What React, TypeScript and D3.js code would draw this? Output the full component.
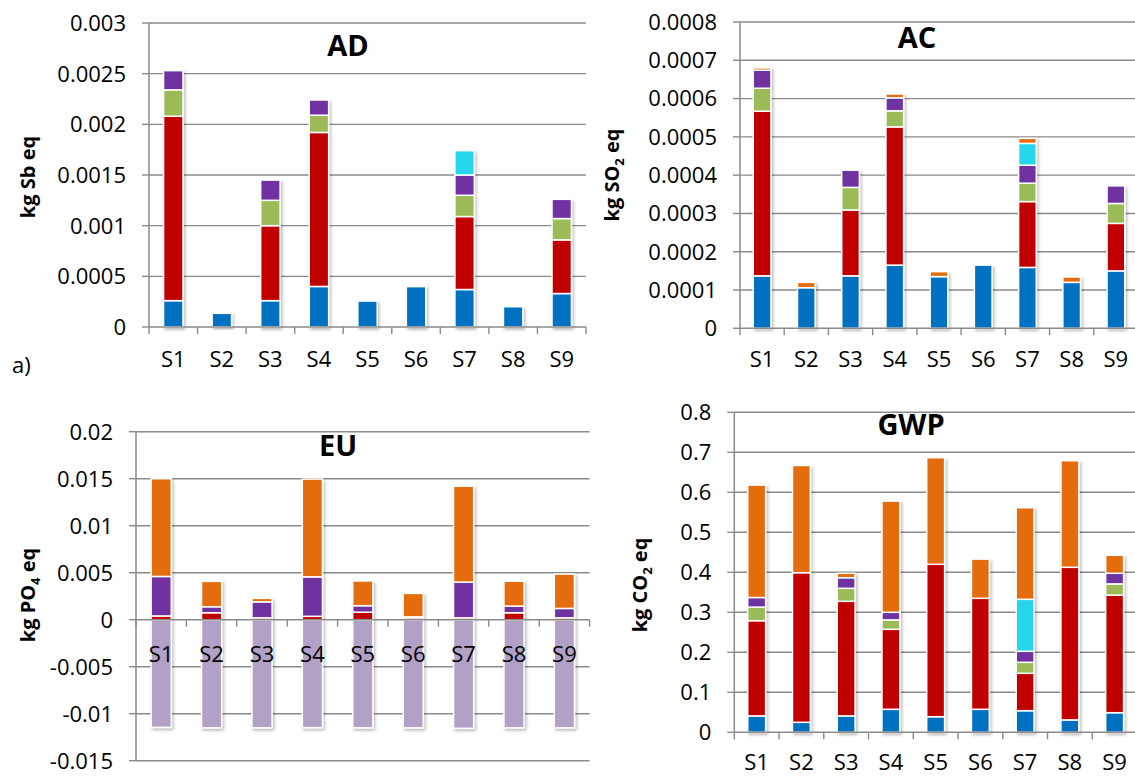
import React from 'react';
import * as d3 from 'd3';

const categories = ['S1', 'S2', 'S3', 'S4', 'S5', 'S6', 'S7', 'S8', 'S9'];

// AD (kg Sb eq)
const adBlue = [0.00026, 0.000135, 0.00026, 0.0004, 0.000256, 0.0004, 0.00037, 0.0002, 0.00033];
const adRed = [0.00182, 0, 0.00074, 0.00152, 0, 0.00001, 0.00072, 0, 0.00053];
const adGreen = [0.00026, 0, 0.00025, 0.00017, 0, 0, 0.00021, 0, 0.00021];
const adPurple = [0.00019, 0, 0.0002, 0.00015, 0, 0, 0.0002, 0, 0.00019];
const adCyan = [0, 0, 0, 0, 0, 0, 0.00024, 0, 0];
const adTicks = [0, 0.0005, 0.001, 0.0015, 0.002, 0.0025, 0.003];
const adTickLabels = ['0', '0.0005', '0.001', '0.0015', '0.002', '0.0025', '0.003'];

// AC (kg SO2 eq)
const acBlue = [0.000137, 0.000106, 0.000137, 0.000165, 0.000135, 0.000165, 0.000159, 0.00012, 0.00015];
const acRed = [0.00043, 0, 0.000172, 0.000361, 0, 0, 0.000172, 0, 0.000124];
const acGreen = [0.00006, 0, 0.000059, 0.000042, 0, 0, 0.000048, 0, 0.000052];
const acPurple = [0.000047, 0, 0.000045, 0.000034, 0, 0, 0.000047, 0, 0.000046];
const acCyan = [0, 0, 0, 0, 0, 0, 0.000057, 0, 0];
const acOrange = [0.000006, 0.000014, 0, 0.00001, 0.000013, 0, 0.000013, 0.000014, 0];
const acTicks = [0, 0.0001, 0.0002, 0.0003, 0.0004, 0.0005, 0.0006, 0.0007, 0.0008];
const acTickLabels = ['0', '0.0001', '0.0002', '0.0003', '0.0004', '0.0005', '0.0006', '0.0007', '0.0008'];

// EU (kg PO4 eq)
const euRed = [0.0004, 0.00074, 0.0002, 0.00036, 0.0008, 0.0002, 0.0002, 0.00074, 0.0002];
const euPurple = [0.0042, 0.00064, 0.0017, 0.0042, 0.00069, 0.0001, 0.0038, 0.00071, 0.001];
const euOrange = [0.0104, 0.0027, 0.00037, 0.0104, 0.00263, 0.0025, 0.0102, 0.00264, 0.00365];
const euLavender = [-0.01145, -0.0115, -0.0115, -0.01148, -0.0115, -0.0115, -0.01155, -0.0115, -0.0115];
const euTicks = [-0.015, -0.01, -0.005, 0, 0.005, 0.01, 0.015, 0.02];
const euTickLabels = ['-0.015', '-0.01', '-0.005', '0', '0.005', '0.01', '0.015', '0.02'];

// GWP (kg CO2 eq)
const gwBlue = [0.041, 0.025, 0.041, 0.0575, 0.039, 0.0575, 0.054, 0.031, 0.049];
const gwRed = [0.238, 0.374, 0.2865, 0.2, 0.381, 0.2775, 0.0935, 0.3815, 0.294];
const gwGreen = [0.034, 0, 0.0325, 0.0235, 0, 0, 0.0275, 0, 0.028];
const gwPurple = [0.024, 0, 0.0265, 0.019, 0, 0, 0.0275, 0, 0.0265];
const gwCyan = [0, 0, 0, 0, 0, 0, 0.13, 0, 0];
const gwOrange = [0.281, 0.268, 0.011, 0.278, 0.2665, 0.098, 0.229, 0.2665, 0.045];
const gwTicks = [0, 0.1, 0.2, 0.3, 0.4, 0.5, 0.6, 0.7, 0.8];
const gwTickLabels = ['0', '0.1', '0.2', '0.3', '0.4', '0.5', '0.6', '0.7', '0.8'];

const C = {
  blue: '#0070C0',
  red: '#C00000',
  green: '#9BBB59',
  purple: '#7030A0',
  cyan: '#27D6EC',
  orange: '#E46C0A',
  lavender: '#B2A1C7',
};

const FONT = '"Open Sans", "Liberation Sans", sans-serif';
const GRID = '#8a8a8a';

type SeriesDef = { key: string; color: string; values: number[] };

type PanelProps = {
  id: string;
  series: SeriesDef[];
  x0: number;
  x1: number;
  yTopPx: number;
  yBotPx: number;
  domain: [number, number];
  ticks: number[];
  tickLabels: string[];
  title: string;
  titleX: number;
  titleY: number;
  ylabel: React.ReactNode;
  ylabelX: number;
  ylabelY: number;
  catLabelY: number;
};

function Panel(p: PanelProps) {
  const y = d3.scaleLinear().domain(p.domain).range([p.yBotPx, p.yTopPx]);
  const x = d3.scaleBand<string>().domain(categories).range([p.x0, p.x1]).padding(0);
  const bw = x.bandwidth() * 0.4;
  const rows = categories.map((c, i) => {
    const r: any = { cat: c };
    p.series.forEach((s) => (r[s.key] = s.values[i]));
    return r;
  });
  const stack = d3
    .stack<any>()
    .keys(p.series.map((s) => s.key))
    .offset(d3.stackOffsetDiverging);
  const layers = stack(rows);
  const yZero = y(0);
  const boundaries = d3.range(categories.length + 1).map((i) => p.x0 + i * x.step());

  return (
    <g>
      {p.ticks.map((t, i) =>
        t === 0 ? null : (
          <line key={'g' + i} x1={p.x0} x2={p.x1} y1={y(t)} y2={y(t)} stroke={GRID} strokeWidth={1.4} />
        )
      )}
      {p.ticks.map((t, i) => (
        <line key={'yt' + i} x1={p.x0 - 7} x2={p.x0} y1={y(t)} y2={y(t)} stroke={GRID} strokeWidth={1.4} />
      ))}
      {p.ticks.map((t, i) => (
        <text
          key={'yl' + i}
          x={p.x0 - 23}
          y={y(t)}
          dy="0.36em"
          textAnchor="end"
          fontFamily={FONT}
          fontSize={22}
          fill="#000"
        >
          {p.tickLabels[i]}
        </text>
      ))}
      {categories.map((c, ci) => (
        <g key={'bar' + c} filter={`url(#shadow-${p.id})`}>
          {layers.map((layer, li) => {
            const d = layer[ci];
            const v0 = d[0];
            const v1 = d[1];
            if (Math.abs(v1 - v0) < 1e-12) return null;
            const ya = y(Math.max(v0, v1));
            const yb = y(Math.min(v0, v1));
            return (
              <rect
                key={layer.key}
                x={(x(c) as number) + (x.bandwidth() - bw) / 2}
                y={ya}
                width={bw}
                height={Math.max(0.5, yb - ya)}
                fill={p.series[li].color}
                stroke="#fff"
                strokeWidth={1.5}
              />
            );
          })}
        </g>
      ))}
      <line x1={p.x0} x2={p.x0} y1={p.yTopPx} y2={p.yBotPx} stroke={GRID} strokeWidth={1.5} />
      <line x1={p.x0} x2={p.x1} y1={yZero} y2={yZero} stroke={GRID} strokeWidth={1.5} />
      {boundaries.map((bx, i) => (
        <line key={'xt' + i} x1={bx} x2={bx} y1={yZero} y2={yZero + 7} stroke={GRID} strokeWidth={1.4} />
      ))}
      {categories.map((c) => (
        <text
          key={'cl' + c}
          x={(x(c) as number) + x.bandwidth() / 2}
          y={p.catLabelY}
          dy="0.36em"
          textAnchor="middle"
          fontFamily={FONT}
          fontSize={22}
          fill="#000"
        >
          {c}
        </text>
      ))}
      <text
        x={p.titleX}
        y={p.titleY}
        dy="0.36em"
        textAnchor="middle"
        fontFamily={FONT}
        fontWeight="bold"
        fontSize={29}
        fill="#000"
      >
        {p.title}
      </text>
      <text
        transform={`translate(${p.ylabelX},${p.ylabelY}) rotate(-90)`}
        textAnchor="middle"
        dy="0.36em"
        fontFamily={FONT}
        fontWeight="bold"
        fontSize={20}
        fill="#000"
      >
        {p.ylabel}
      </text>
    </g>
  );
}

export default function App() {
  const ids = ['ad', 'ac', 'eu', 'gw'];
  return (
    <svg
      width={1135}
      height={776}
      viewBox="0 0 1135 776"
      style={{ position: 'absolute', left: 0, top: 0, background: '#fff' }}
    >
      <defs>
        {ids.map((id) => (
          <filter key={id} id={`shadow-${id}`} x="-30%" y="-10%" width="160%" height="130%">
            <feDropShadow dx={1.5} dy={2} stdDeviation={1.8} floodColor="#000" floodOpacity={0.28} />
          </filter>
        ))}
      </defs>
      <rect x={0} y={0} width={1135} height={776} fill="#fff" />
      <Panel
        id="ad"
        series={[
          { key: 'blue', color: C.blue, values: adBlue },
          { key: 'red', color: C.red, values: adRed },
          { key: 'green', color: C.green, values: adGreen },
          { key: 'purple', color: C.purple, values: adPurple },
          { key: 'cyan', color: C.cyan, values: adCyan },
        ]}
        x0={149}
        x1={586}
        yTopPx={23}
        yBotPx={327}
        domain={[0, 0.003]}
        ticks={adTicks}
        tickLabels={adTickLabels}
        title="AD"
        titleX={348}
        titleY={46}
        ylabel="kg Sb eq"
        ylabelX={28}
        ylabelY={177}
        catLabelY={359}
      />
      <Panel
        id="ac"
        series={[
          { key: 'blue', color: C.blue, values: acBlue },
          { key: 'red', color: C.red, values: acRed },
          { key: 'green', color: C.green, values: acGreen },
          { key: 'purple', color: C.purple, values: acPurple },
          { key: 'cyan', color: C.cyan, values: acCyan },
          { key: 'orange', color: C.orange, values: acOrange },
        ]}
        x0={740}
        x1={1138}
        yTopPx={22}
        yBotPx={328.3}
        domain={[0, 0.0008]}
        ticks={acTicks}
        tickLabels={acTickLabels}
        title="AC"
        titleX={917}
        titleY={38}
        ylabel={
          <>
            kg SO
            <tspan fontSize={13} dy="5">2</tspan>
            <tspan dy="-5"> eq</tspan>
          </>
        }
        ylabelX={612}
        ylabelY={175}
        catLabelY={359}
      />
      <Panel
        id="eu"
        series={[
          { key: 'lavender', color: C.lavender, values: euLavender },
          { key: 'red', color: C.red, values: euRed },
          { key: 'purple', color: C.purple, values: euPurple },
          { key: 'orange', color: C.orange, values: euOrange },
        ]}
        x0={136}
        x1={589.6}
        yTopPx={431.7}
        yBotPx={760.7}
        domain={[-0.015, 0.02]}
        ticks={euTicks}
        tickLabels={euTickLabels}
        title="EU"
        titleX={338}
        titleY={446}
        ylabel={
          <>
            kg PO
            <tspan fontSize={13} dy="5">4</tspan>
            <tspan dy="-5"> eq</tspan>
          </>
        }
        ylabelX={28}
        ylabelY={595}
        catLabelY={654}
      />
      <Panel
        id="gw"
        series={[
          { key: 'blue', color: C.blue, values: gwBlue },
          { key: 'red', color: C.red, values: gwRed },
          { key: 'green', color: C.green, values: gwGreen },
          { key: 'purple', color: C.purple, values: gwPurple },
          { key: 'cyan', color: C.cyan, values: gwCyan },
          { key: 'orange', color: C.orange, values: gwOrange },
        ]}
        x0={734.3}
        x1={1137}
        yTopPx={412.3}
        yBotPx={732.3}
        domain={[0, 0.8]}
        ticks={gwTicks}
        tickLabels={gwTickLabels}
        title="GWP"
        titleX={911}
        titleY={425}
        ylabel={
          <>
            kg CO
            <tspan fontSize={13} dy="5">2</tspan>
            <tspan dy="-5"> eq</tspan>
          </>
        }
        ylabelX={640}
        ylabelY={585}
        catLabelY={762}
      />
      <text x={12} y={365} dy="0.36em" fontFamily={FONT} fontSize={22} fill="#000">
        a)
      </text>
    </svg>
  );
}
